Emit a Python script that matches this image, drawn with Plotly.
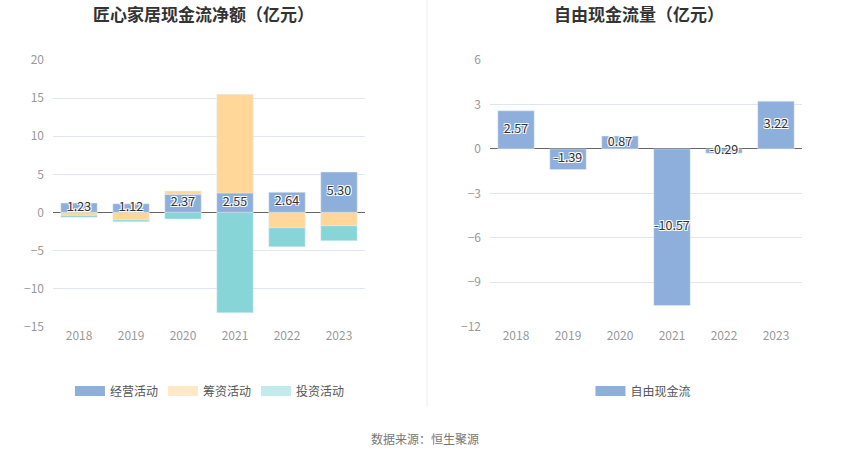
import plotly.graph_objects as go

years = ["2018", "2019", "2020", "2021", "2022", "2023"]
operating = [1.23, 1.12, 2.37, 2.55, 2.64, 5.30]
financing = [-0.42, -1.00, 0.43, 12.94, -2.01, -1.75]
investing = [-0.22, -0.22, -0.87, -13.17, -2.49, -1.97]
free_cf = [2.57, -1.39, 0.87, -10.57, -0.29, 3.22]

C_OP = "#8EAEDB"
C_FIN = "#FFD899"
C_INV = "#88D5D8"
C_FIN_L = "#FFE9C6"
C_INV_L = "#C3EBEC"

FONT = "Noto Sans CJK SC"
SHADOW = "1px 1px 0 #fff, -1px -1px 0 #fff, 1px -1px 0 #fff, -1px 1px 0 #fff"

fig = go.Figure()

fig.add_trace(go.Bar(x=years, y=operating, marker_color=C_OP, name="经营活动",
                     showlegend=False, xaxis="x", yaxis="y"))
fig.add_trace(go.Bar(x=years, y=financing, marker_color=C_FIN, name="筹资活动",
                     showlegend=False, xaxis="x", yaxis="y"))
fig.add_trace(go.Bar(x=years, y=investing, marker_color=C_INV, name="投资活动",
                     showlegend=False, xaxis="x", yaxis="y"))
fig.add_trace(go.Scatter(x=years, y=[v / 2 for v in operating], mode="text",
                         text=[f"{v:.2f}" for v in operating],
                         textfont=dict(size=12.5, color="#333", family=FONT, shadow=SHADOW),
                         showlegend=False, xaxis="x", yaxis="y", hoverinfo="skip"))

# legend entries (left chart)
for nm, col in [("经营活动", C_OP), ("筹资活动", C_FIN_L), ("投资活动", C_INV_L)]:
    fig.add_trace(go.Scatter(x=[None], y=[None], mode="lines", line=dict(color=col, width=13),
                             name=nm, xaxis="x", yaxis="y", legend="legend"))

fig.add_trace(go.Bar(x=years, y=free_cf, marker_color=C_OP, name="自由现金流",
                     showlegend=False, xaxis="x2", yaxis="y2"))
fig.add_trace(go.Scatter(x=years, y=[v / 2 for v in free_cf], mode="text",
                         text=[f"{v:.2f}" for v in free_cf],
                         textfont=dict(size=12.5, color="#333", family=FONT, shadow=SHADOW),
                         showlegend=False, xaxis="x2", yaxis="y2", hoverinfo="skip"))
fig.add_trace(go.Scatter(x=[None], y=[None], mode="lines", line=dict(color=C_OP, width=13),
                         name="自由现金流", xaxis="x2", yaxis="y2", legend="legend2"))

axis_common = dict(showline=False, ticks="", showgrid=False, zeroline=False, automargin=False,
                   tickfont=dict(size=12, color="#999", family=FONT))
yax_common = dict(showgrid=True, gridcolor="#E0E6F1", gridwidth=1, zeroline=True,
                  zerolinecolor="#666", zerolinewidth=1, showline=False, ticks="", automargin=False,
                  tickfont=dict(size=12, color="#999", family=FONT), ticklabelstandoff=8)

fig.update_layout(
    width=850, height=459,
    margin=dict(l=0, r=0, t=0, b=0, autoexpand=False),
    paper_bgcolor="white", plot_bgcolor="white",
    barmode="relative", bargap=0.3,
    font=dict(family=FONT, color="#666"),
    xaxis=dict(domain=[0.0624, 0.4294], anchor="y", type="category", **axis_common),
    yaxis=dict(domain=[0.2882, 0.8693], anchor="x", range=[-15, 20], dtick=5, **yax_common),
    xaxis2=dict(domain=[0.5765, 0.9435], anchor="y2", type="category", **axis_common),
    yaxis2=dict(domain=[0.2882, 0.8693], anchor="x2", range=[-12, 6], dtick=3, **yax_common),
    legend=dict(orientation="h", x=0.247, xanchor="center", y=0.148, yanchor="middle",
                font=dict(size=12, color="#555", family=FONT),
                bgcolor="rgba(0,0,0,0)"),
    legend2=dict(orientation="h", x=0.757, xanchor="center", y=0.148, yanchor="middle",
                 font=dict(size=12, color="#555", family=FONT),
                 bgcolor="rgba(0,0,0,0)"),
    showlegend=True,
    annotations=[
        dict(text="<b>匠心家居现金流净额（亿元）</b>", x=203 / 850, y=1 - 14 / 459, xref="paper", yref="paper",
             xanchor="center", yanchor="middle", showarrow=False,
             font=dict(size=17, color="#333", family=FONT)),
        dict(text="<b>自由现金流量（亿元）</b>", x=639 / 850, y=1 - 14 / 459, xref="paper", yref="paper",
             xanchor="center", yanchor="middle", showarrow=False,
             font=dict(size=17, color="#333", family=FONT)),
        dict(text="数据来源：恒生聚源", x=0.5, y=1 - 438 / 459, xref="paper", yref="paper",
             xanchor="center", yanchor="middle", showarrow=False,
             font=dict(size=12, color="#777", family=FONT)),
    ],
    shapes=[dict(type="line", xref="paper", yref="paper", x0=427 / 850, x1=427 / 850,
                 y0=1, y1=1 - 407 / 459, line=dict(color="#EEEEEE", width=1))],
)

fig.write_html("out.html", config={"displayModeBar": False},
               post_script="document.body.style.margin='0';document.body.style.padding='0';")
